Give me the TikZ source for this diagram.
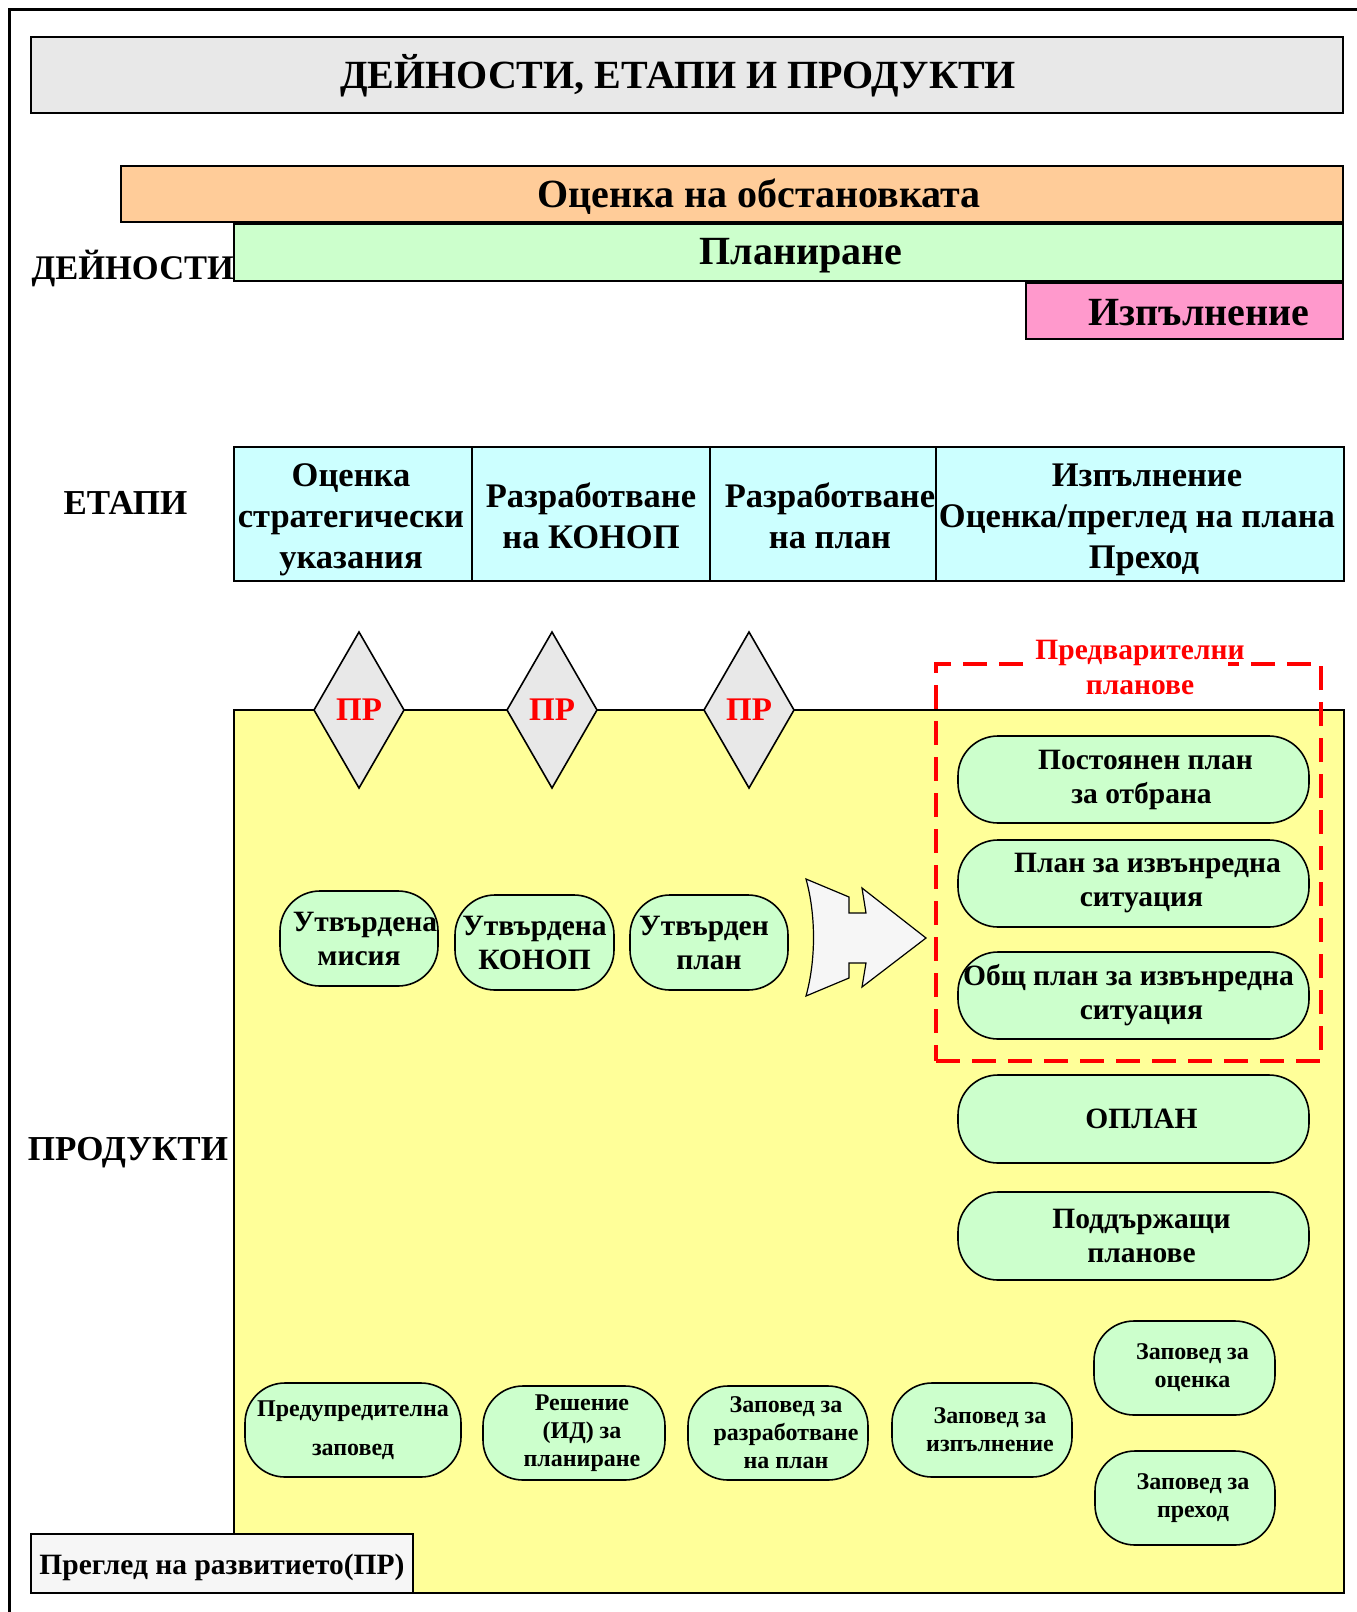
\documentclass[tikz,border=0pt]{standalone}
\usepackage{fontspec}
\setmainfont{Liberation Serif}
\usetikzlibrary{shapes.geometric}
\definecolor{cgray}{HTML}{E8E8E8}
\definecolor{corange}{HTML}{FFCC99}
\definecolor{cgreen}{HTML}{CCFFCC}
\definecolor{cpink}{HTML}{FF99CC}
\definecolor{ccyan}{HTML}{CCFFFF}
\definecolor{cyellow}{HTML}{FFFF99}
\definecolor{clight}{HTML}{F6F6F6}
\definecolor{cred}{HTML}{FF0000}
\newcommand{\fsz}[2]{\fontsize{#1}{#2}\selectfont\bfseries}
\newcommand{\rsh}{\hspace*{16pt}}
\tikzset{
  box/.style={draw=black, line width=1.6pt, inner sep=0pt, outer sep=0pt},
  pill/.style={box, fill=cgreen, rounded corners=40pt, align=center},
  txt/.style={inner sep=0pt, outer sep=0pt, align=center},
  prdia/.style={box, shape=diamond, aspect=0.577, fill=cgray, minimum width=90pt, minimum height=156pt, text=cred, font=\fsz{33}{40}},
}
\begin{document}
\begin{tikzpicture}[x=1pt,y=-1pt]
\useasboundingbox (0,0) rectangle (1357,1612);
% frame
\draw[line width=3pt] (9,1612) -- (9,9) -- (1357,9);
% title
\node[box, fill=cgray, minimum width=1312pt, minimum height=76pt] (title) at (687,75) {};
\node[txt, font=\fsz{40}{46}] (titleT) at (678,76) {ДЕЙНОСТИ, ЕТАПИ И ПРОДУКТИ};
% activities
\node[box, fill=corange, minimum width=1222pt, minimum height=56pt] (obst) at (732,194) {};
\node[txt, font=\fsz{40}{46}] (obstT) at (759,197) {Оценка на обстановката};
\node[box, fill=cgreen, minimum width=1109pt, minimum height=57pt] (plan) at (788.5,252.5) {};
\node[txt, font=\fsz{40}{46}] (planT) at (801,256) {Планиране};
\node[box, fill=cpink, minimum width=317pt, minimum height=56pt] (izp) at (1184.5,311) {};
\node[txt, font=\fsz{40}{46}] (izpT) at (1199,313) {Изпълнение};
\node[txt, anchor=east, font=\fsz{34.5}{40}] (deyn) at (234,268) {ДЕЙНОСТИ};
% stages
\node[txt, font=\fsz{35}{40}] (etapi) at (125.5,503) {ЕТАПИ};
\node[box, fill=ccyan, minimum width=238pt, minimum height=134pt] (s1) at (353,514) {};
\node[txt, font=\fsz{34.5}{41}] (s1T) at (351,520) {Оценка\\стратегически\\указания};
\node[box, fill=ccyan, minimum width=238pt, minimum height=134pt] (s2) at (591,514) {};
\node[txt, font=\fsz{34.5}{41}] (s2T) at (591,516) {Разработване\\на КОНОП};
\node[box, fill=ccyan, minimum width=226pt, minimum height=134pt] (s3) at (823,514) {};
\node[txt, font=\fsz{34.5}{41}] (s3T) at (830,516) {Разработване\\на план};
\node[box, fill=ccyan, minimum width=408pt, minimum height=134pt] (s4) at (1140,514) {};
\node[txt, font=\fsz{34.5}{41}] (s4T) at (1137,520) {\hspace*{20pt}Изпълнение\\Оценка/преглед на плана\\\hspace*{14pt}Преход};
% products
\node[txt, font=\fsz{35}{40}] (prod) at (128,1153) {ПРОДУКТИ};
\node[box, fill=cyellow, minimum width=1110pt, minimum height=883pt] (yel) at (789,1151.5) {};
% diamonds
\node[prdia] (d1) at (359,710) {\raisebox{-2pt}{ПР}};
\node[prdia] (d2) at (552,710) {\raisebox{-2pt}{ПР}};
\node[prdia] (d3) at (749,710) {\raisebox{-2pt}{ПР}};
% preliminary plans
\node[draw=cred, line width=4pt, dash pattern=on 24pt off 12pt, minimum width=385pt, minimum height=397pt, inner sep=0pt] (prel) at (1128.5,862.5) {};
\node[fill=white, minimum width=195pt, minimum height=70pt, inner sep=0pt] (prelbg) at (1130,672) {};
\node[txt, text=cred, font=\fsz{29.5}{35}] (prelT) at (1140,667) {Предварителни\\планове};
\node[pill, minimum width=351pt, minimum height=87pt, font=\fsz{29.5}{34}] (p1) at (1133.5,779.5) {\hspace*{24pt}Постоянен план\\\rsh за отбрана};
\node[pill, minimum width=351pt, minimum height=87pt, font=\fsz{29.5}{34}] (p2) at (1133.5,883.5) {\hspace*{28pt}План за извънредна\\\rsh ситуация};
\node[pill, minimum width=351pt, minimum height=87pt, font=\fsz{29.5}{34}] (p3) at (1133.5,995.5) {Общ план за извънредна\hspace*{10pt}\\\rsh ситуация};
\node[pill, minimum width=351pt, minimum height=88pt, font=\fsz{29.5}{34}] (p4) at (1133.5,1119) {\rsh ОПЛАН};
\node[pill, minimum width=351pt, minimum height=88pt, font=\fsz{29.5}{34}] (p5) at (1133.5,1236) {\rsh Поддържащи\\\rsh планове};
% approved products
\node[pill, minimum width=158pt, minimum height=95pt, font=\fsz{29.5}{34}] (m1) at (359,938.5) {\hspace*{12pt}Утвърдена\\мисия};
\node[pill, minimum width=159pt, minimum height=95pt, font=\fsz{29.5}{34}] (m2) at (534.5,942.5) {Утвърдена\\КОНОП};
\node[pill, minimum width=158pt, minimum height=95pt, font=\fsz{29.5}{34}] (m3) at (709,942.5) {Утвърден\hspace*{10pt}\\план};
% big arrow
\draw[line width=1.2pt, fill=clight] (806,879) -- (849,897) -- (849,913) -- (866,913) -- (862,888) -- (926,938) -- (862,987) -- (866,963) -- (849,963) -- (849,978) -- (806,996) .. controls (816,960) and (816,915) .. (806,879) -- cycle;
% orders
\node[pill, minimum width=216pt, minimum height=94pt, font=\fsz{24}{39}] (o1) at (353,1430) {Предупредителна\\заповед};
\node[pill, minimum width=182pt, minimum height=94pt, font=\fsz{24}{28}] (o2) at (574,1433) {\rsh Решение\\\rsh(ИД) за\\\rsh планиране};
\node[pill, minimum width=180pt, minimum height=94pt, font=\fsz{24}{28}] (o3) at (778,1433) {\rsh Заповед за\\\rsh разработване\\\rsh на план};
\node[pill, minimum width=180pt, minimum height=94pt, font=\fsz{24}{28}] (o4) at (982,1430) {\rsh Заповед за\\\rsh изпълнение};
\node[pill, minimum width=181pt, minimum height=94pt, font=\fsz{24}{28}] (o5) at (1184.5,1368) {\rsh Заповед за\\\rsh оценка};
\node[pill, minimum width=180pt, minimum height=94pt, font=\fsz{24}{28}] (o6) at (1185,1498) {\rsh Заповед за\\\rsh преход};
% legend
\node[box, fill=clight, minimum width=382pt, minimum height=59pt] (legend) at (222,1563.5) {};
\node[txt, font=\fsz{29.5}{34}] (legendT) at (222,1567) {Преглед на развитието(ПР)};
\end{tikzpicture}
\end{document}
